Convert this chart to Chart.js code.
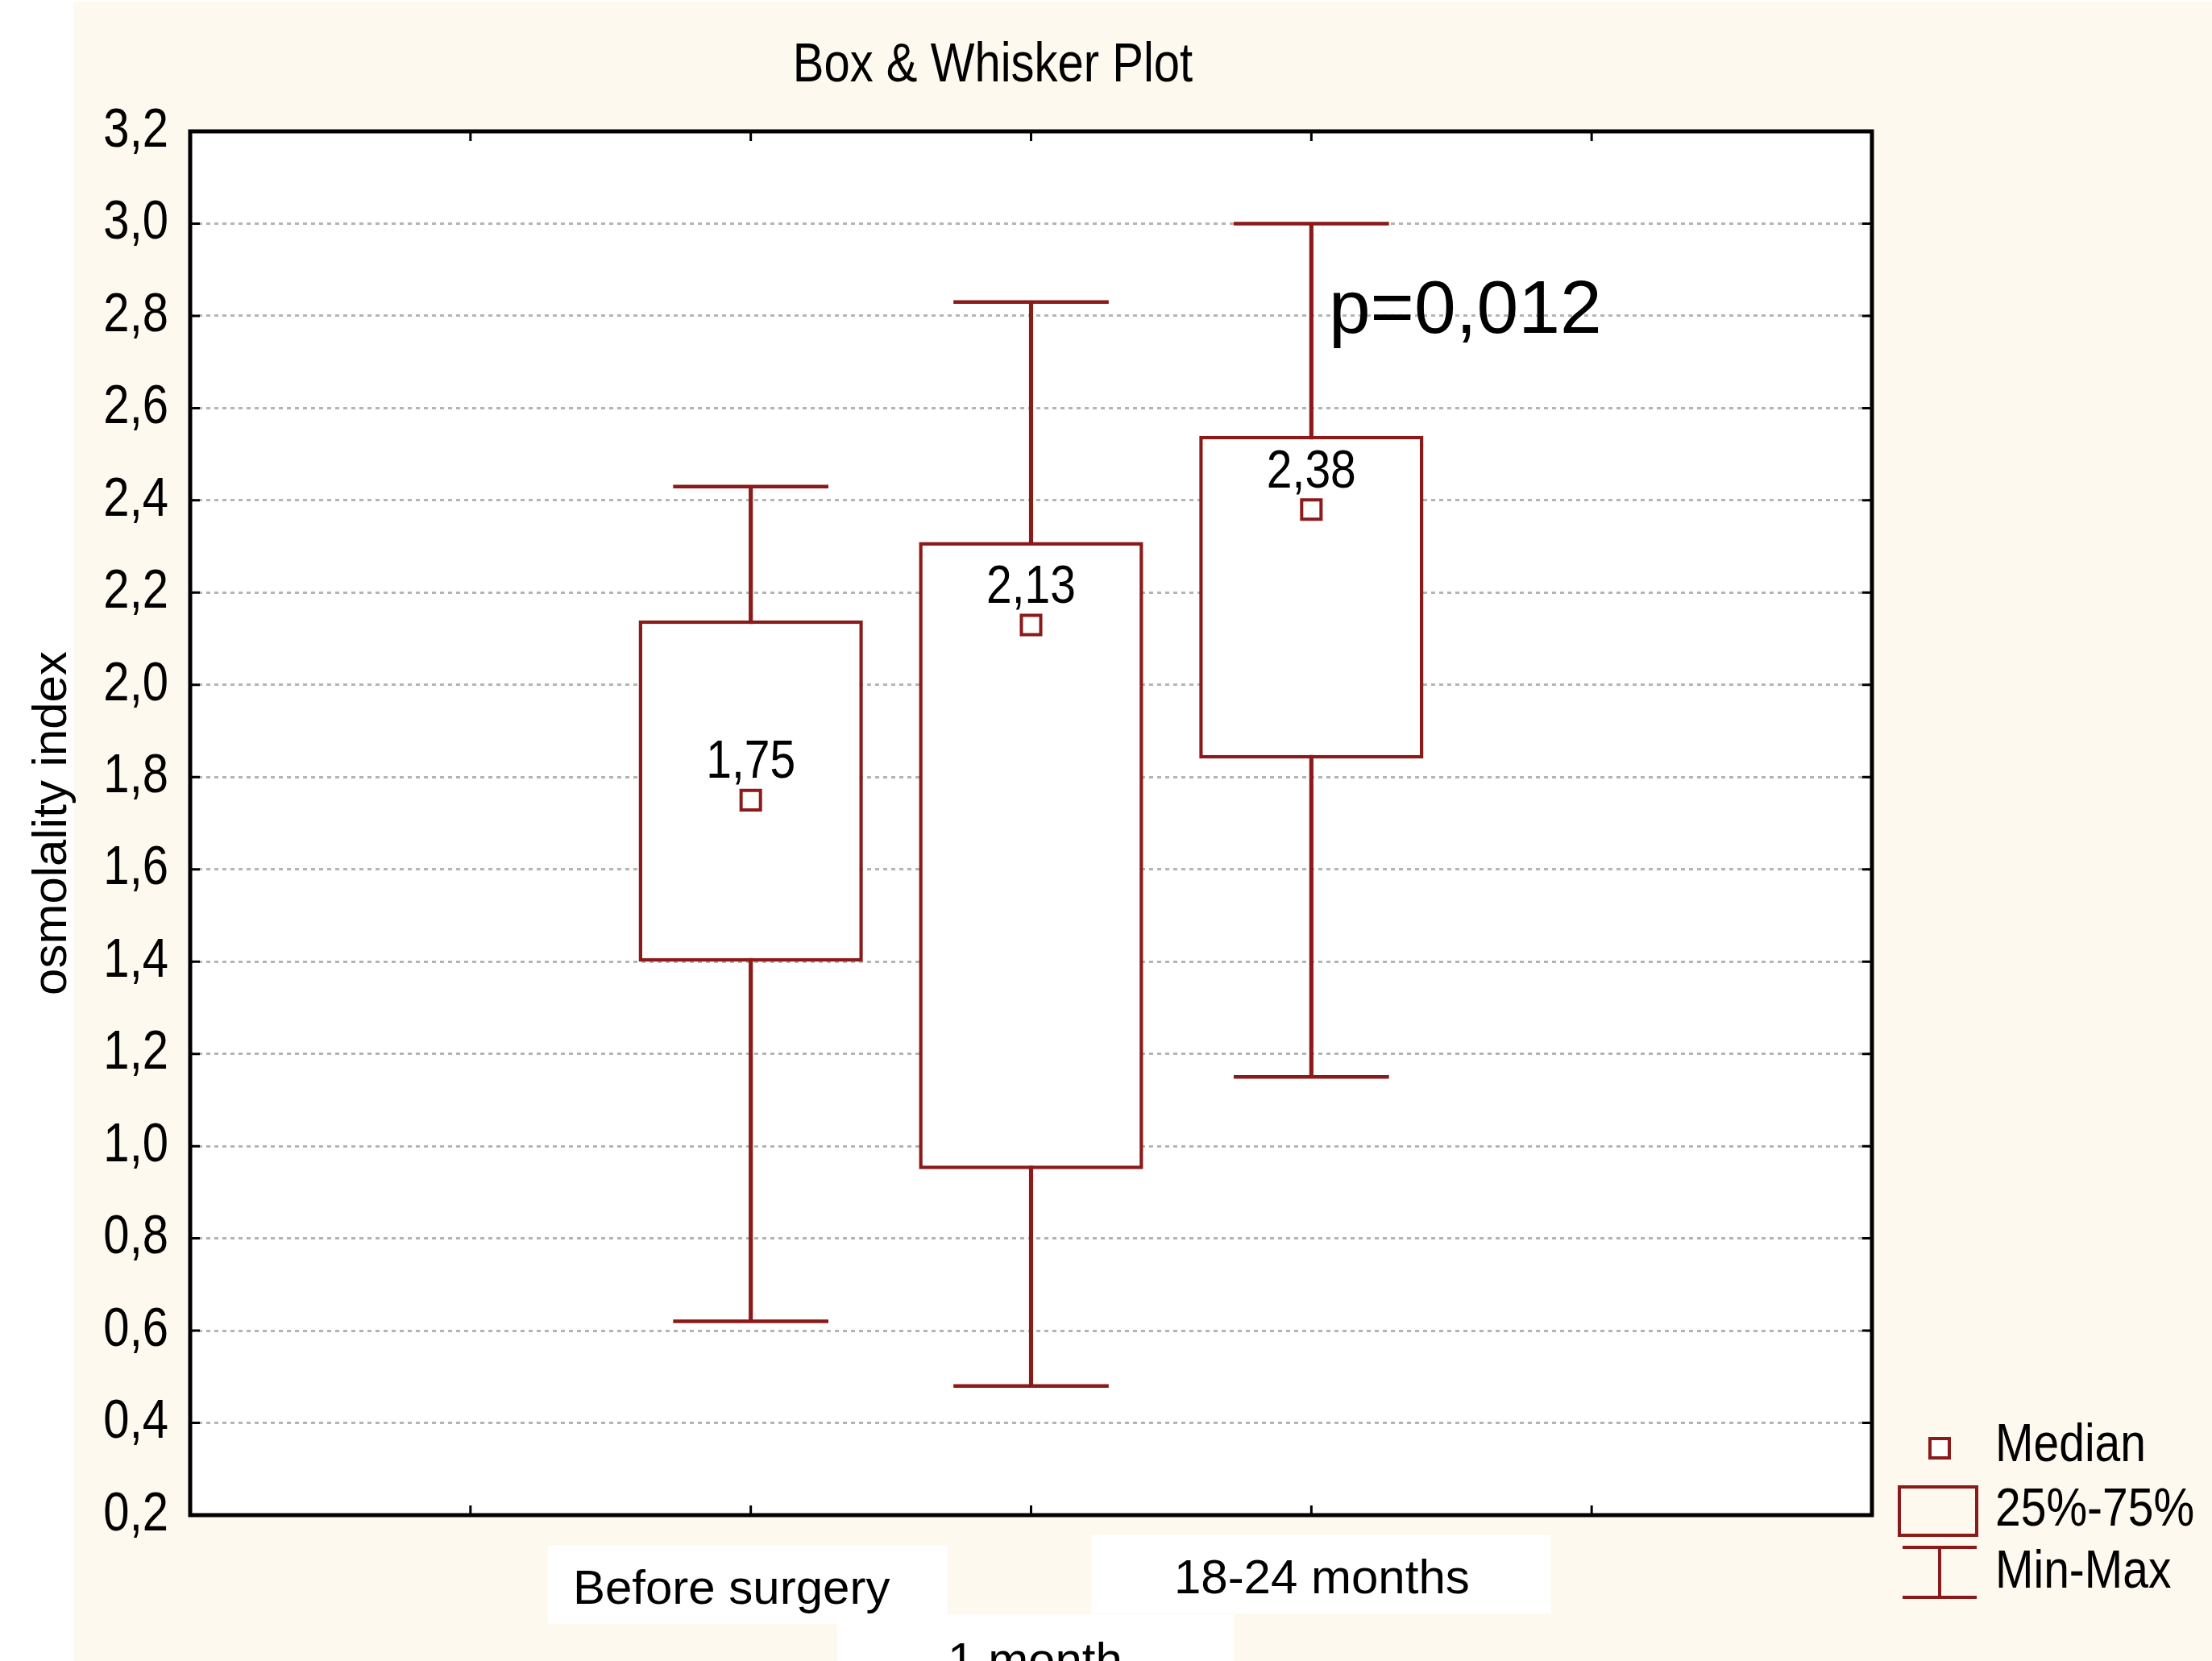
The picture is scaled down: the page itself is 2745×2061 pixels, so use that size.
<!DOCTYPE html>
<html>
<head>
<meta charset="utf-8">
<title>Box &amp; Whisker Plot</title>
<script src="https://cdn.jsdelivr.net/npm/chart.js@4.4.1/dist/chart.umd.min.js"></script>
<style>
  html, body { margin: 0; padding: 0; background: #ffffff; overflow: hidden; }
  canvas { display: block; }
</style>
</head>
<body>
<canvas id="chart" width="2745" height="2061"></canvas>
<script>
// ---------- data ----------
const categories = ['Before surgery', '1 month', '18-24 months'];
const categoryPositions = [2, 3, 4];
const minimum = [0.62, 0.48, 1.15];
const quartile25 = [1.40, 0.95, 1.84];
const median = [1.75, 2.13, 2.38];
const quartile75 = [2.14, 2.31, 2.54];
const maximum = [2.43, 2.83, 3.00];
const yAxisRange = [0.2, 3.2];
const yAxisStep = 0.2;
const xAxisRange = [0, 6];
const legendLabels = ['Median', '25%-75%', 'Min-Max'];
const chartTitle = 'Box & Whisker Plot';
const yAxisTitle = 'osmolality index';
const pValueLabel = 'p=0,012';

// ---------- styling ----------
const RED = '#8b1a1a';
const FONT = "'Liberation Sans', Arial, sans-serif";
const TEXT_STRETCH = 1.17;     // tall, narrow lettering of the plot's own labels
const LINE_W = 4.5;
const CAP_HALF = 0.277;        // half length of a whisker cap, in x units
const BOX_FRACTION = 0.8;      // box width, in x units
const P_ANCHOR = { x: 4.062, y: 2.763 };
const TITLE_AT = { x: 1232, y: 82 };

// category label placement below the axis (offsets from the category pixel / plot bottom)
const CATEGORY_LABEL_LAYOUT = [
  { dx: -24, baseline: 110, box: [-252, 244, 38, 135] },
  { dx: 5,   baseline: 200, box: [-240, 252, 123, 185] },
  { dx: 13,  baseline: 97,  box: [-273, 297, 25, 122] }
];

const comma = (v, d) => Number(v).toFixed(d).replace('.', ',');

Chart.defaults.font.family = FONT;
Chart.defaults.color = '#000';

// Text drawn upright gets the vertical stretch; rotated text is left as is.
const canvas = document.getElementById('chart');
const ctx2d = canvas.getContext('2d');
const plainFillText = ctx2d.fillText.bind(ctx2d);
ctx2d.fillText = function (text, x, y, maxWidth) {
  const m = ctx2d.getTransform();
  if (Math.abs(m.b) > 0.5) {
    return maxWidth === undefined ? plainFillText(text, x, y) : plainFillText(text, x, y, maxWidth);
  }
  ctx2d.save();
  ctx2d.translate(x, y);
  ctx2d.scale(1, TEXT_STRETCH);
  if (maxWidth === undefined) plainFillText(text, 0, 0); else plainFillText(text, 0, 0, maxWidth);
  ctx2d.restore();
};

const backdrop = {
  id: 'backdrop',
  beforeDraw(chart) {
    const { ctx, width, height, chartArea: a } = chart;
    ctx.save();
    ctx.fillStyle = '#ffffff';
    ctx.fillRect(0, 0, width, height);
    ctx.fillStyle = '#fef9ee';
    ctx.fillRect(91, 2, width - 91, height - 2);
    ctx.fillStyle = '#ffffff';
    ctx.fillRect(a.left, a.top, a.right - a.left, a.bottom - a.top);
    ctx.restore();
  }
};

const frame = {
  id: 'frame',
  afterDatasetsDraw(chart) {
    const { ctx, chartArea: a, scales: { x, y } } = chart;
    const len = 12;
    ctx.save();
    ctx.strokeStyle = '#000';
    ctx.lineWidth = 3;
    ctx.beginPath();
    y.ticks.forEach(t => {
      const py = y.getPixelForValue(t.value);
      ctx.moveTo(a.left, py); ctx.lineTo(a.left + len, py);
      ctx.moveTo(a.right, py); ctx.lineTo(a.right - len, py);
    });
    x.ticks.forEach(t => {
      if (t.value <= xAxisRange[0] || t.value >= xAxisRange[1]) return;
      const px = x.getPixelForValue(t.value);
      ctx.moveTo(px, a.top); ctx.lineTo(px, a.top + len);
      ctx.moveTo(px, a.bottom); ctx.lineTo(px, a.bottom - len);
    });
    ctx.stroke();
    ctx.lineWidth = 5;
    ctx.strokeRect(a.left, a.top, a.right - a.left, a.bottom - a.top);
    ctx.restore();
  }
};

const annotations = {
  id: 'annotations',
  afterDraw(chart) {
    const { ctx, chartArea: a, scales: { x, y } } = chart;
    ctx.save();
    ctx.fillStyle = '#000';

    // chart title
    ctx.font = `58px ${FONT}`;
    ctx.textAlign = 'center';
    ctx.textBaseline = 'middle';
    ctx.fillText(chartTitle, TITLE_AT.x, TITLE_AT.y);

    // median values above the markers
    ctx.font = `57px ${FONT}`;
    chart.getDatasetMeta(0).data.forEach((pt, i) => {
      ctx.fillText(comma(median[i], 2), pt.x, pt.y - 46);
    });

    // significance note
    ctx.font = `93px ${FONT}`;
    ctx.textAlign = 'left';
    ctx.textBaseline = 'alphabetic';
    plainFillText(pValueLabel, x.getPixelForValue(P_ANCHOR.x), y.getPixelForValue(P_ANCHOR.y));

    // category labels on white tags
    ctx.font = `60px ${FONT}`;
    ctx.textAlign = 'center';
    categories.forEach((name, i) => {
      const L = CATEGORY_LABEL_LAYOUT[i];
      const px = x.getPixelForValue(categoryPositions[i]);
      ctx.fillStyle = '#ffffff';
      ctx.fillRect(px + L.box[0], a.bottom + L.box[2], L.box[1] - L.box[0], L.box[3] - L.box[2]);
    });
    ctx.fillStyle = '#000';
    categories.forEach((name, i) => {
      const L = CATEGORY_LABEL_LAYOUT[i];
      const px = x.getPixelForValue(categoryPositions[i]);
      plainFillText(name, px + L.dx, a.bottom + L.baseline);
    });

    // legend, laid out from the plot's lower-right corner
    const ox = a.right, oy = a.bottom;
    ctx.strokeStyle = RED;
    ctx.lineWidth = 4;
    ctx.fillStyle = '#ffffff';
    ctx.beginPath();
    ctx.rect(ox + 72, oy - 95, 24, 24);
    ctx.fill();
    ctx.stroke();
    ctx.strokeRect(ox + 34, oy - 35, 96, 60);
    ctx.beginPath();
    ctx.moveTo(ox + 38, oy + 40); ctx.lineTo(ox + 130, oy + 40);
    ctx.moveTo(ox + 84, oy + 40); ctx.lineTo(ox + 84, oy + 102);
    ctx.moveTo(ox + 38, oy + 102); ctx.lineTo(ox + 130, oy + 102);
    ctx.stroke();
    ctx.fillStyle = '#000';
    ctx.font = `57px ${FONT}`;
    ctx.textAlign = 'left';
    ctx.textBaseline = 'middle';
    const rows = [oy - 85, oy - 5, oy + 72];
    legendLabels.forEach((t, i) => ctx.fillText(t, ox + 153, rows[i]));

    ctx.restore();
  }
};

new Chart(ctx2d, {
  type: 'bar',
  data: {
    datasets: [
      {
        type: 'line',
        label: legendLabels[0],
        data: categoryPositions.map((p, i) => ({ x: p, y: median[i] })),
        showLine: false,
        pointStyle: 'rect',
        pointRadius: 17,
        pointBorderWidth: 4,
        pointBackgroundColor: '#ffffff',
        pointBorderColor: RED,
        order: 0
      },
      {
        type: 'line',
        label: legendLabels[2] + ' caps',
        data: categoryPositions.map((p, i) => ({ x: p, y: minimum[i] }))
          .concat(categoryPositions.map((p, i) => ({ x: p, y: maximum[i] }))),
        showLine: false,
        pointStyle: 'line',
        pointRadius: (c) => {
          const sx = c.chart.scales.x;
          return sx.getPixelForValue(CAP_HALF) - sx.getPixelForValue(0);
        },
        pointBorderWidth: LINE_W,
        pointBorderColor: RED,
        pointBackgroundColor: RED,
        order: 1
      },
      {
        type: 'bar',
        label: legendLabels[1],
        data: categoryPositions.map((p, i) => ({ x: p, y: [quartile25[i], quartile75[i]] })),
        backgroundColor: '#ffffff',
        borderColor: RED,
        borderWidth: LINE_W,
        borderSkipped: false,
        categoryPercentage: BOX_FRACTION,
        barPercentage: 1,
        grouped: false,
        order: 2
      },
      {
        type: 'bar',
        label: legendLabels[2],
        data: categoryPositions.map((p, i) => ({ x: p, y: [minimum[i], maximum[i]] })),
        backgroundColor: RED,
        borderWidth: 0,
        barThickness: LINE_W,
        grouped: false,
        order: 3
      }
    ]
  },
  options: {
    responsive: false,
    devicePixelRatio: 1,
    animation: false,
    events: [],
    layout: { padding: { left: 0, right: 422, top: 163, bottom: 181 } },
    plugins: {
      legend: { display: false },
      tooltip: { enabled: false },
      title: { display: false }
    },
    scales: {
      x: {
        type: 'linear',
        min: xAxisRange[0],
        max: xAxisRange[1],
        offset: false,
        ticks: { display: false, stepSize: 1 },
        grid: { display: false },
        border: { display: false },
        afterFit(s) { s.height = 0; }
      },
      y: {
        type: 'linear',
        min: yAxisRange[0],
        max: yAxisRange[1],
        ticks: {
          stepSize: yAxisStep,
          padding: 27,
          color: '#000',
          font: { family: FONT, size: 58 },
          callback: (v) => comma(v, 1)
        },
        grid: { color: '#b4b4b4', lineWidth: 3, drawTicks: false },
        border: { display: false, dash: [5, 5] },
        title: {
          display: true,
          text: yAxisTitle,
          color: '#000',
          font: { family: FONT, size: 60 },
          padding: { top: 29, bottom: 0 }
        },
        afterFit(s) { s.width = 236; }
      }
    }
  },
  plugins: [backdrop, frame, annotations]
});
</script>
</body>
</html>
